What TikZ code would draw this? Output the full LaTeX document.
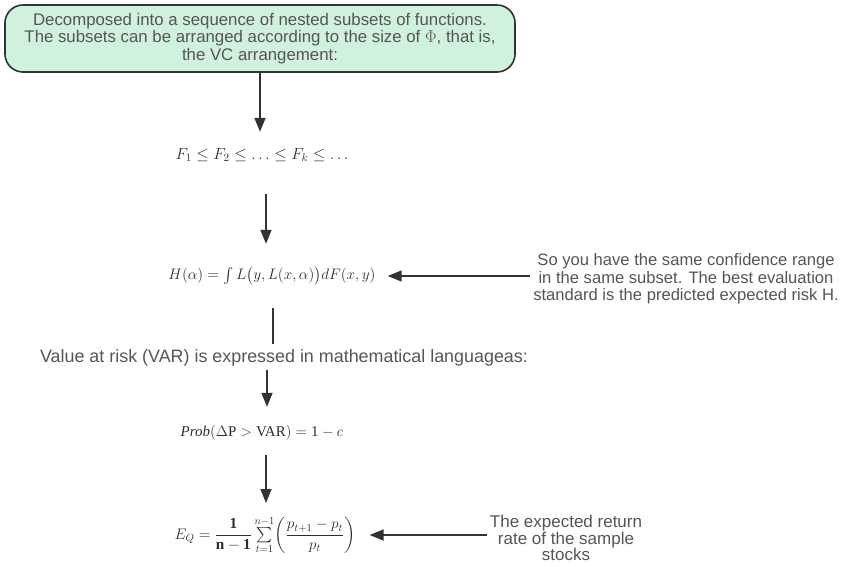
\documentclass[tikz,border=0pt]{standalone}
\usepackage{amsmath}
\usepackage{graphicx}
\usepackage{fontspec}
\setmainfont{Liberation Sans}
\newfontfamily\mserif{Liberation Serif}
\usetikzlibrary{arrows.meta,calc}
\definecolor{boxfill}{RGB}{208,241,221}
\definecolor{edge}{RGB}{50,50,50}
\definecolor{txt}{RGB}{85,85,85}
\definecolor{mth}{RGB}{45,45,45}
\tikzset{
  topbox/.style={draw=edge,line width=1.6pt,fill=boxfill,rounded corners=18pt,
    minimum width=510pt,minimum height=67pt,align=center,text=txt,
    font=\fontsize{16.8}{17.5}\selectfont,inner sep=0pt},
  formula/.style={text=mth,inner sep=0pt,minimum height=20pt,font=\fontsize{14.4}{18}\selectfont},
  note/.style={text=txt,align=center,inner sep=3pt},
  arr/.style={draw=edge,line width=1.6pt,-{Triangle[length=14pt,width=11pt]}},
  plain/.style={draw=edge,line width=1.6pt}
}
\begin{document}
\begin{tikzpicture}[x=1pt,y=-1pt]
\useasboundingbox (0,0) rectangle (845,566);
\node[topbox] (top) at (260,38.5) {Decomposed into a sequence of nested subsets of functions.\\The subsets can be arranged according to the size of $\Phi$, that is,\\the VC arrangement:};
\node[formula] (f1) at (262,155) {\scalebox{1.12}{$F_1\le F_2\le\ldots\le F_k\le\ldots$}};
\node[formula] (h) at (272,276) {\scalebox{1.06}{$H(\alpha)=\int L\bigl(y,L(x,\alpha)\bigr)dF(x,y)$}};
\node[note,font=\fontsize{16.6}{17.5}\selectfont] (r1) at (686,279) {So you have the same confidence range\\in the same subset. The best evaluation\\standard is the predicted expected risk H.};
\node[note,font=\fontsize{17.9}{19}\selectfont] (v) at (284,358) {Value at risk (VAR) is expressed in mathematical languageas:};
\node[formula] (p) at (262,433) {\scalebox{1.04}{$\text{\mserif\itshape Prob}(\Delta\text{\mserif P}>\text{\mserif VAR})=\text{\mserif 1}-c$}};
\node[formula] (e) at (265,535) {\scalebox{1.06}{$E_Q=\dfrac{\text{\mserif\bfseries 1}}{\text{\mserif\bfseries n}-\text{\mserif\bfseries 1}}\sum\limits_{t=1}^{n-1}\!\left(\dfrac{p_{t+1}-p_t}{p_t}\right)$}};
\node[note,font=\fontsize{17}{16.5}\selectfont] (r2) at (566,538) {The expected return\\rate of the sample\\stocks};
\draw[arr,shorten >=13pt] (top.south) -- (top.south |- f1.north);
\draw[arr,shorten <=29pt,shorten >=22pt] ([xshift=4pt]f1.south) -- ([xshift=4pt]f1.south |- h.north);
\draw[arr,shorten >=12pt] (r1.west |- h.east) -- (h.east);
\draw[plain,shorten <=22pt,shorten >=2pt] ([xshift=1pt]h.south) -- ([xshift=1pt]h.south |- v.north);
\draw[arr,shorten <=0pt,shorten >=16pt] ([xshift=-17pt]v.south) -- ([xshift=-17pt]v.south |- p.north);
\draw[arr,shorten <=12pt] ([xshift=4pt]p.south) -- ([xshift=4pt,yshift=32pt]p.south |- e.center);
\draw[arr,shorten >=14pt] (r2.west |- e.east) -- (e.east);
\end{tikzpicture}
\end{document}
